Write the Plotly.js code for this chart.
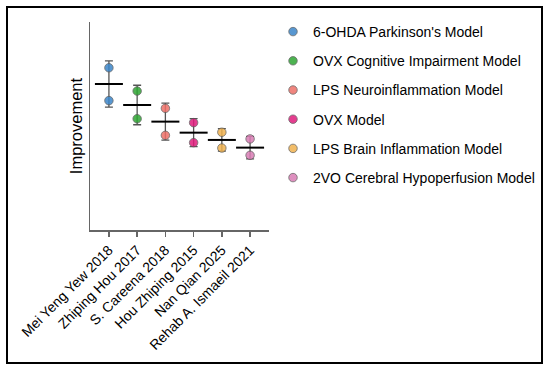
<!DOCTYPE html>
<html>
<head>
<meta charset="utf-8">
<script src="https://cdn.plot.ly/plotly-3.0.1.min.js"></script>
<style>
html,body{margin:0;padding:0;background:#fff;}
#chart{width:550px;height:371px;}
</style>
</head>
<body>
<div id="chart"></div>
<script>
const studies = ["Mei Yeng Yew 2018","Zhiping Hou 2017","S. Careena 2018","Hou Zhiping 2015","Nan Qian 2025","Rehab A. Ismaeil 2021"];
const models = ["6-OHDA Parkinson's Model","OVX Cognitive Impairment Model","LPS Neuroinflammation Model","OVX Model","LPS Brain Inflammation Model","2VO Cerebral Hypoperfusion Model"];
const highValues = [78.0, 66.8, 58.5, 51.6, 47.0, 43.8];
const lowValues  = [62.2, 53.5, 45.5, 42.0, 39.4, 35.9];
const means = [70.2, 60.1, 52.1, 46.8, 43.3, 39.6];
const sds   = [11.1, 9.5, 8.9, 6.7, 5.4, 5.4];
const colors = ["#3b86c9","#2ea633","#ee7068","#e01c7c","#f0b24f","#d97cb4"];

const FONT = "Arial, 'Liberation Sans', Helvetica, sans-serif";

const traces = [];
traces.push({
  type: 'scatter', mode: 'markers',
  x: studies, y: means,
  showlegend: false, hoverinfo: 'skip',
  marker: {symbol: 'line-ew-open', size: 20, color: '#000', line: {color: '#000', width: 2}},
  error_y: {type: 'data', array: sds, visible: true, color: '#555', thickness: 1.3, width: 4}
});
for (let i = 0; i < studies.length; i++) {
  traces.push({
    type: 'scatter', mode: 'markers',
    name: models[i], legendgroup: 'g' + i,
    x: [studies[i], studies[i]], y: [highValues[i], lowValues[i]],
    marker: {size: 8.5, color: colors[i], opacity: 0.85, line: {color: '#555', width: 0.8}}
  });
}

const layout = {
  width: 550, height: 371,
  margin: {l: 90, r: 281, t: 22, b: 141, autoexpand: false},
  paper_bgcolor: '#fff', plot_bgcolor: '#fff',
  font: {family: FONT, color: '#000', size: 14},
  showlegend: true,
  legend: {x: (273 - 90) / 179, xanchor: 'left', y: (230 - 16) / 208, yanchor: 'top',
           font: {family: FONT, size: 14, color: '#000'},
           tracegroupgap: 8, itemsizing: 'trace', bgcolor: 'rgba(0,0,0,0)'},
  xaxis: {
    type: 'category', range: [-0.67, 5.67], automargin: false,
    showline: true, linecolor: '#666', linewidth: 1.5,
    ticks: 'outside', ticklen: 5, tickwidth: 1.5, tickcolor: '#666',
    tickangle: -45, tickfont: {family: FONT, size: 14, color: '#000'},
    showgrid: false, zeroline: false, fixedrange: true
  },
  yaxis: {
    range: [0, 100], automargin: false,
    showline: true, linecolor: '#666', linewidth: 1.5,
    ticks: '', showticklabels: false, showgrid: false, zeroline: false,
    title: {text: 'Improvement', font: {family: FONT, size: 16.5, color: '#000'}, standoff: 1}
  },
  shapes: [{
    type: 'rect', xref: 'paper', yref: 'paper',
    x0: (7 - 90) / 179, x1: (542 - 90) / 179,
    y0: (230 - 363) / 208, y1: (230 - 7) / 208,
    line: {color: '#000', width: 2}, fillcolor: 'rgba(0,0,0,0)', layer: 'above'
  }]
};

Plotly.newPlot('chart', traces, layout, {displayModeBar: false, staticPlot: true});
</script>
</body>
</html>
